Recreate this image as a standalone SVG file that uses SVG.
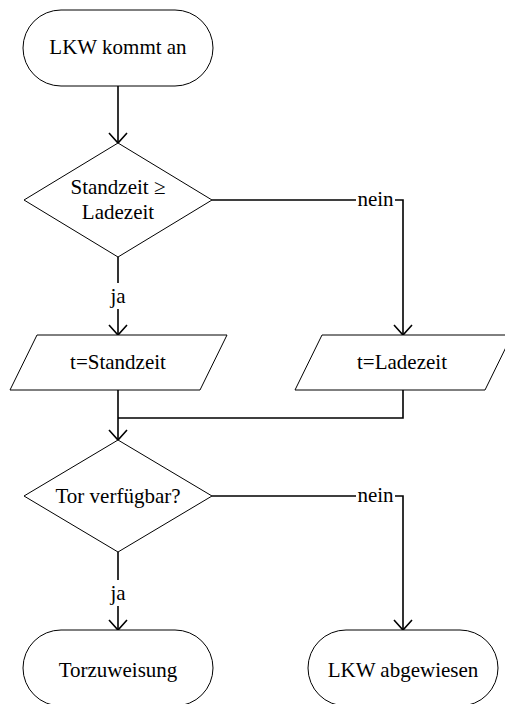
<svg xmlns="http://www.w3.org/2000/svg" width="505" height="704" viewBox="0 0 505 704" font-family="'Liberation Serif', 'Times New Roman', Times, serif" font-size="21">
<style>
.shape{fill:#fff;stroke:#000;stroke-width:1}
.conn{fill:none;stroke:#000;stroke-width:1.6}
.lbg{fill:#fff}
</style>
<defs>
<marker id="arr" markerUnits="userSpaceOnUse" viewBox="-12 -11 14 22" markerWidth="14" markerHeight="22" refX="0" refY="0" orient="auto">
<path d="M-10,-9 L0,0 L-10,9" fill="none" stroke="#000" stroke-width="1.6"/>
</marker>
</defs>
<rect width="505" height="704" fill="#fff"/>
<g id="connectors" text-anchor="middle">
<path class="conn" d="M118,86 V143" marker-end="url(#arr)"/>
<path class="conn" d="M212,200 H403 V335" marker-end="url(#arr)"/>
<path class="conn" d="M118,257 V335" marker-end="url(#arr)"/>
<path class="conn" d="M118,390 V440" marker-end="url(#arr)"/>
<path class="conn" d="M403,390 V418 H118"/>
<path class="conn" d="M212,496 H403 V630" marker-end="url(#arr)"/>
<path class="conn" d="M118,552 V630" marker-end="url(#arr)"/>
<rect class="lbg" x="356" y="188" width="39" height="22"/>
<text x="375.5" y="206">nein</text>
<rect class="lbg" x="108" y="283" width="20" height="26"/>
<text x="118" y="303">ja</text>
<rect class="lbg" x="356" y="484" width="39" height="22"/>
<text x="375.5" y="502">nein</text>
<rect class="lbg" x="108" y="580" width="20" height="26"/>
<text x="118" y="600">ja</text>
</g>
<g id="start" text-anchor="middle">
<rect class="shape" x="23" y="10" width="190" height="76" rx="38" ry="38"/>
<text x="118" y="54">LKW kommt an</text>
</g>
<g id="decision1" text-anchor="middle">
<polygon class="shape" points="118,143 212,200 118,257 24,200"/>
<text x="118" y="194">Standzeit ≥</text>
<text x="118" y="219">Ladezeit</text>
</g>
<g id="standzeit" text-anchor="middle">
<polygon class="shape" points="37,335 227,335 200,390 10,390"/>
<text x="118" y="369">t=Standzeit</text>
</g>
<g id="ladezeit" text-anchor="middle">
<polygon class="shape" points="322,335 512,335 485,390 295,390"/>
<text x="402" y="369">t=Ladezeit</text>
</g>
<g id="decision2" text-anchor="middle">
<polygon class="shape" points="118,440 212,496 118,552 24,496"/>
<text x="118" y="503">Tor verfügbar?</text>
</g>
<g id="torzuweisung" text-anchor="middle">
<rect class="shape" x="23" y="630" width="190" height="76" rx="38" ry="38"/>
<text x="118" y="677">Torzuweisung</text>
</g>
<g id="abgewiesen" text-anchor="middle">
<rect class="shape" x="308" y="630" width="190" height="76" rx="38" ry="38"/>
<text x="403" y="677">LKW abgewiesen</text>
</g>
</svg>
